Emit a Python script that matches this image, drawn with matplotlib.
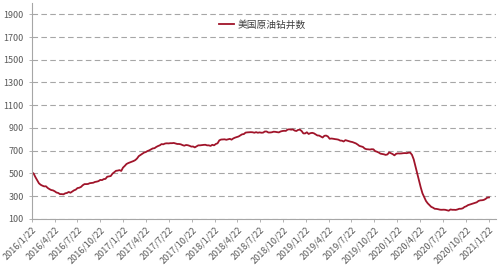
import pandas as pd
import matplotlib
import matplotlib.pyplot as plt
matplotlib.use('Agg')

plt.rcParams['font.family'] = ['Noto Sans CJK SC', 'DejaVu Sans']

# weekly US oil rig count, starting 2016/1/22
rigs_2016 = [510, 498,
             467, 439, 413, 400,
             392, 386, 387, 372,
             362, 354, 351, 343, 332,
             328, 318, 318, 316,
             325, 328, 337, 330,
             341, 351, 357, 371, 374,
             381, 396, 406, 406,
             407, 414, 416, 418, 425,
             428, 432, 443, 441,
             450, 452, 471, 474,
             477, 498, 510, 523, 525]
rigs_2017 = [529, 522, 551, 566,
             583, 591, 597, 602,
             609, 617, 631, 652, 662,
             672, 683, 688, 697,
             703, 712, 720, 722,
             733, 741, 747, 758, 756,
             763, 765, 764, 766,
             766, 768, 763, 759,
             759, 756, 749, 744, 750,
             748, 743, 736, 737,
             729, 738, 747, 747,
             749, 751, 752, 747, 747]
rigs_2018 = [742, 752, 747, 759,
             765, 791, 798, 799,
             800, 796, 800, 804, 797,
             808, 815, 820, 825,
             834, 844, 846, 859,
             861, 862, 863, 862, 858,
             863, 858, 861, 858,
             859, 869, 869, 860, 860,
             862, 867, 866, 863,
             861, 869, 873, 875,
             874, 886, 888, 885, 887,
             877, 873, 883, 885]
rigs_2019 = [873, 852, 852, 862,
             847, 854, 857, 853,
             843, 834, 833, 824, 816,
             831, 833, 825, 805,
             807, 805, 802, 800, 797,
             789, 788, 781, 793,
             788, 784, 779, 776,
             770, 764, 754, 742, 738,
             733, 719, 713, 712,
             710, 713, 712, 696,
             691, 684, 674, 671, 668,
             663, 667, 685, 677]
rigs_2020 = [670, 659, 673, 676, 675,
             676, 678, 679, 678,
             682, 683, 664, 624,
             562, 504, 438, 378,
             325, 292, 258, 237, 222,
             206, 199, 189, 188,
             185, 181, 180, 181, 180,
             176, 172, 183, 180,
             180, 179, 183, 189,
             189, 193, 205, 211, 221,
             226, 231, 236, 241,
             246, 258, 263, 264]
rigs_2021 = [267, 275, 287, 289]

rigs = rigs_2016 + rigs_2017 + rigs_2018 + rigs_2019 + rigs_2020 + rigs_2021
dates = pd.date_range('2016-01-22', periods=len(rigs), freq='7D')

tick_labels = ['2016/1/22', '2016/4/22', '2016/7/22', '2016/10/22',
               '2017/1/22', '2017/4/22', '2017/7/22', '2017/10/22',
               '2018/1/22', '2018/4/22', '2018/7/22', '2018/10/22',
               '2019/1/22', '2019/4/22', '2019/7/22', '2019/10/22',
               '2020/1/22', '2020/4/22', '2020/7/22', '2020/10/22',
               '2021/1/22']
y_ticks = list(range(100, 2000, 200))

fig = plt.figure(figsize=(4.99, 2.65), dpi=100)
ax = fig.add_axes([0.064, 0.174, 0.930, 0.815])

ax.plot(dates, rigs, color='#A0142A', lw=1.3, label='美国原油钻井数')

ax.set_ylim(100, 2000)
ax.set_yticks(y_ticks)
ax.set_xlim(pd.Timestamp('2016-01-22'), pd.Timestamp('2021-02-19'))
ax.set_xticks(pd.to_datetime(tick_labels, format='%Y/%m/%d'))
ax.set_xticklabels(tick_labels, rotation=45, ha='right', rotation_mode='anchor')

ax.grid(axis='y', color='#A6A6A6', ls=(0, (5, 3)), lw=0.8)
ax.set_axisbelow(True)
for s in ['top', 'right']:
    ax.spines[s].set_visible(False)
for s in ['left', 'bottom']:
    ax.spines[s].set_color('#A6A6A6')
    ax.spines[s].set_linewidth(0.8)
ax.tick_params(axis='both', labelsize=6.5, colors='#595959', length=2.5, width=0.6)
ax.tick_params(axis='both', color='#A6A6A6')
ax.tick_params(axis='x', pad=2)

ax.legend(loc='center left', bbox_to_anchor=(0.385, 0.9), frameon=False,
          fontsize=7, handlelength=1.5, handletextpad=0.4, labelcolor='#404040')

fig.savefig('out.png', dpi=100, facecolor='white')
